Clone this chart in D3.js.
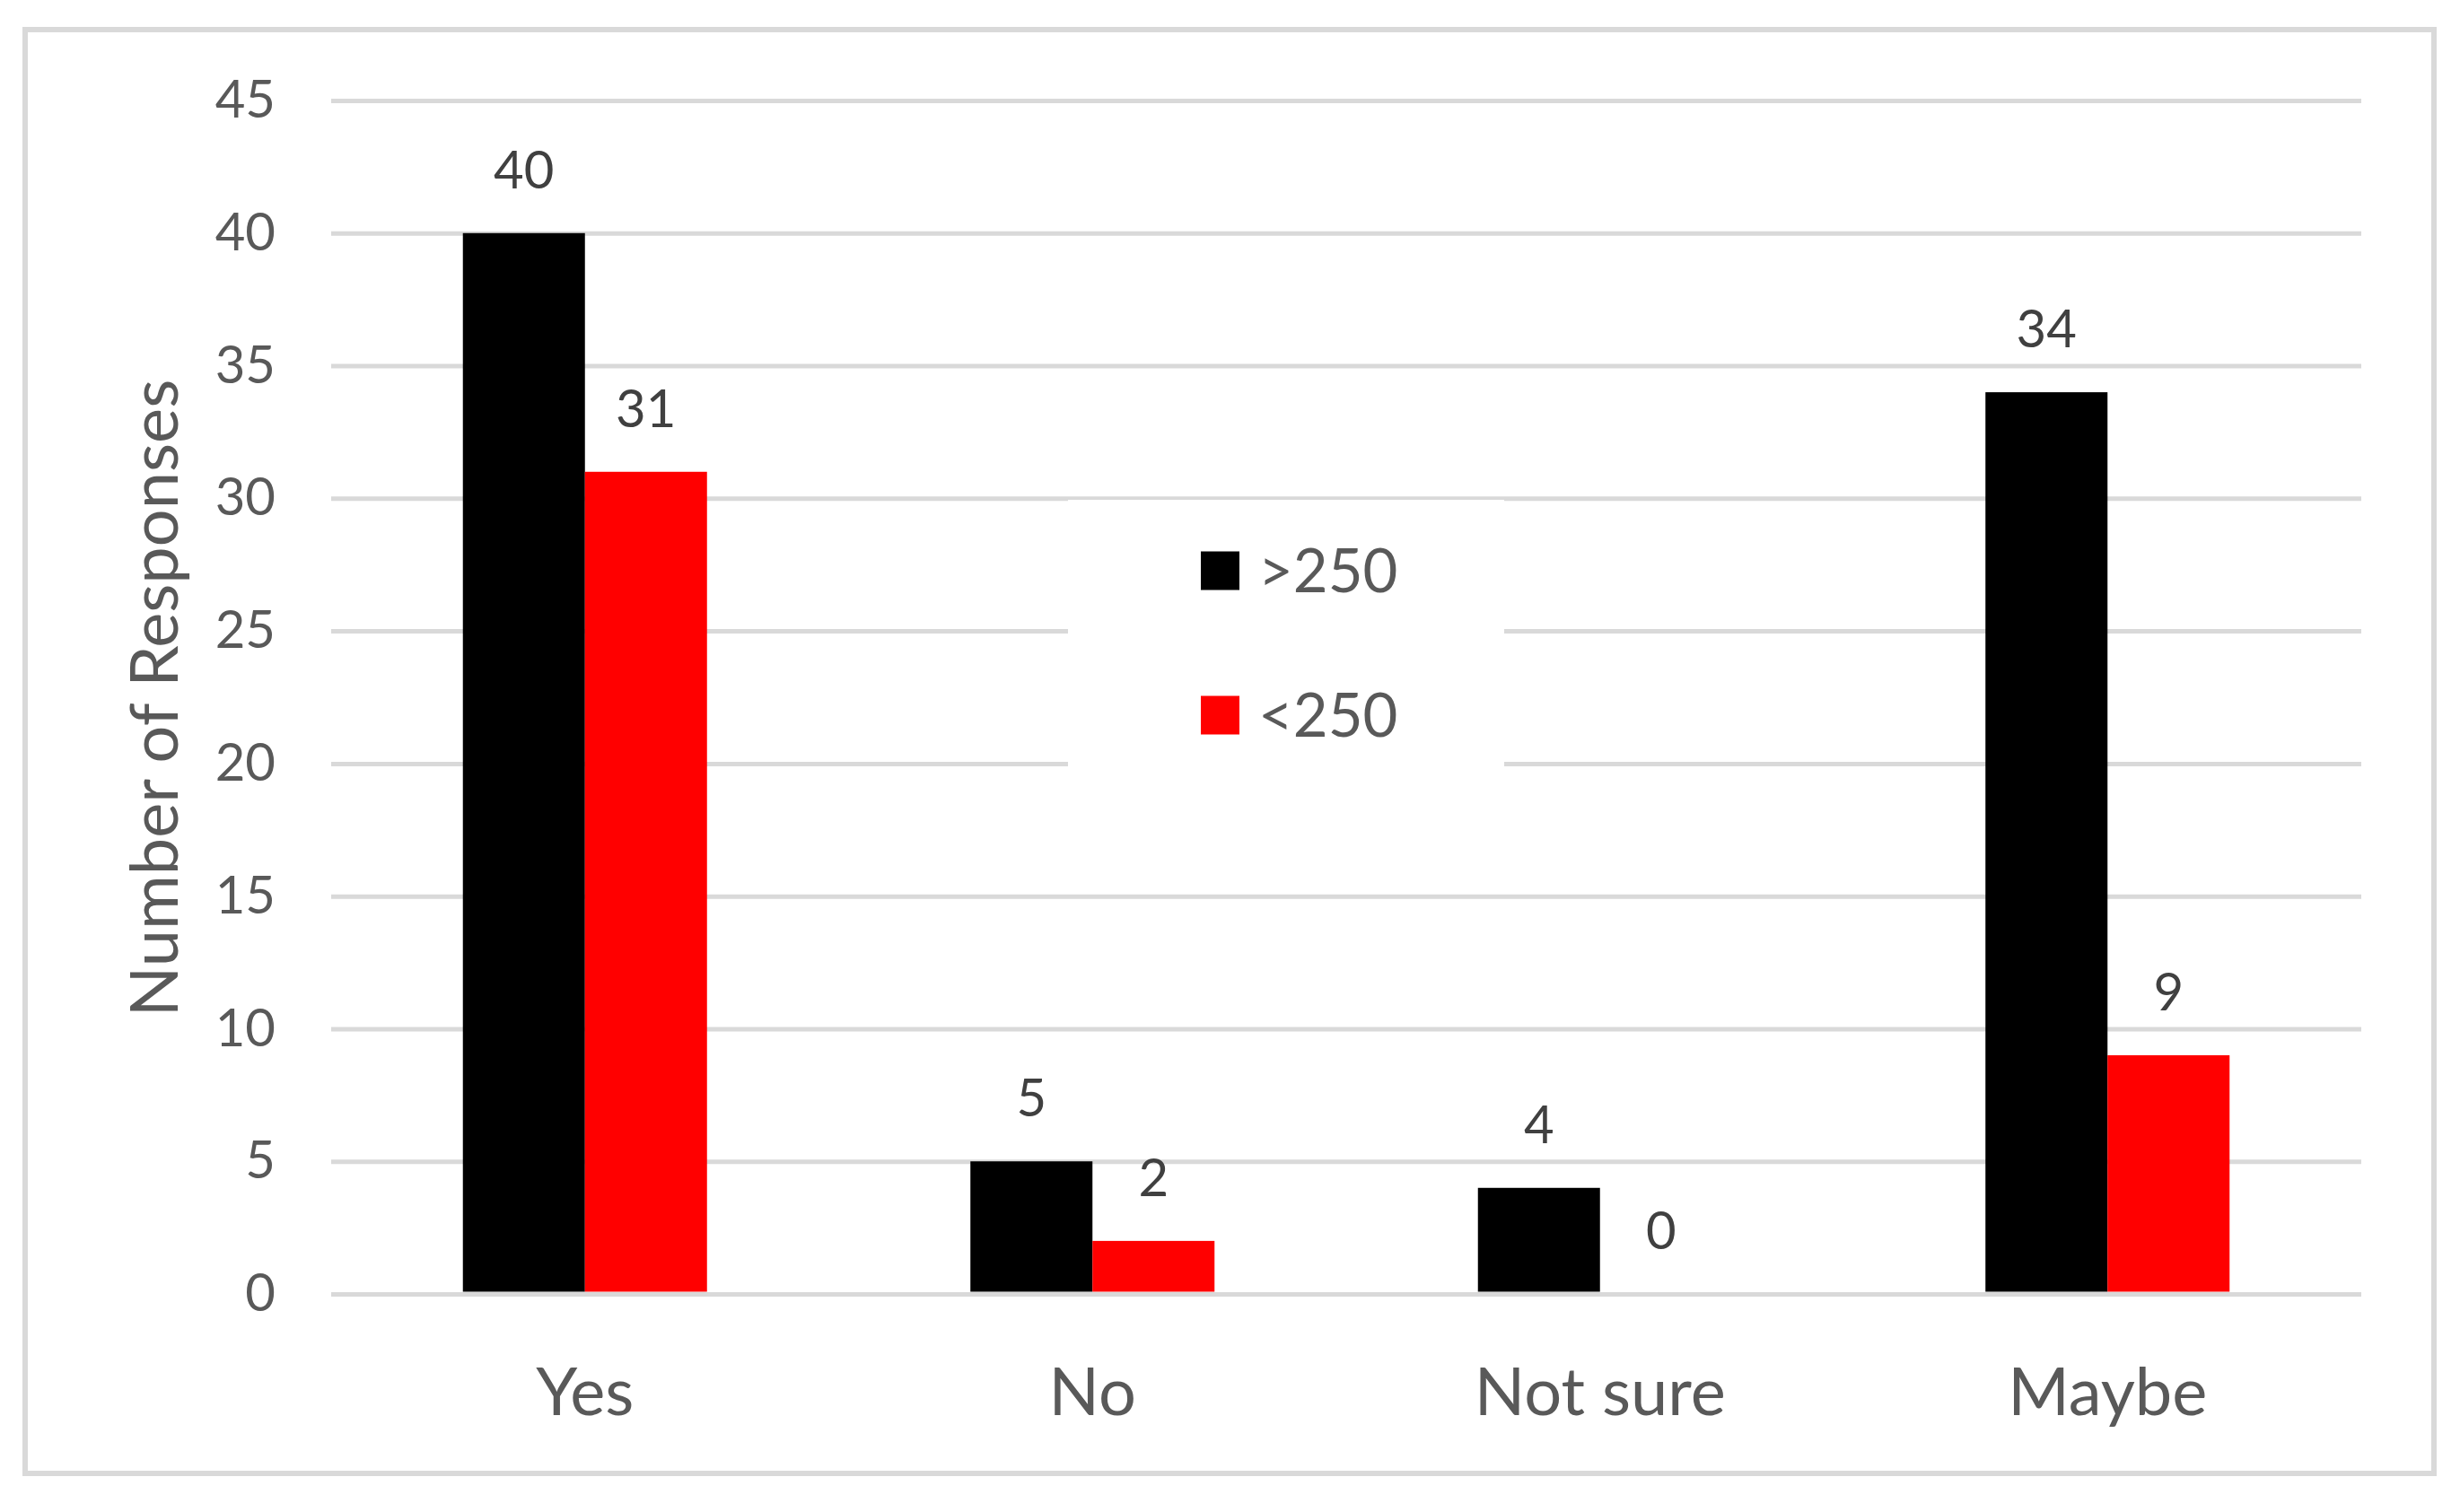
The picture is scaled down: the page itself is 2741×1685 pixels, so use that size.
<!DOCTYPE html>
<html>
<head>
<meta charset="utf-8">
<script src="https://cdn.jsdelivr.net/npm/d3@7"></script>
<style>
  html, body { margin: 0; padding: 0; background: #fff; }
  svg { display: block; }
</style>
</head>
<body>
<svg id="chart" width="2741" height="1685"></svg>
<script>
const categories = ["Yes", "No", "Not sure", "Maybe"];
const seriesNames = [">250", "<250"];
const seriesColors = ["#000000", "#ff0000"];
const over250 = [40, 5, 4, 34];
const under250 = [31, 2, 0, 9];
const yTicks = [0, 5, 10, 15, 20, 25, 30, 35, 40, 45];
const yTitle = "Number of Responses";

const W = 2741, H = 1685;
const margin = { left: 369, right: W - 2631, top: 112, bottom: H - 1442 };
const FONT = "Lato, 'Open Sans', sans-serif";
const svg = d3.select("#chart");

svg.append("rect").attr("x", 0).attr("y", 0).attr("width", W).attr("height", H).attr("fill", "#fff");
// outer chart border
svg.append("rect")
  .attr("x", 28).attr("y", 33).attr("width", 2684).attr("height", 1609)
  .attr("fill", "none").attr("stroke", "#d9d9d9").attr("stroke-width", 6);

const x0 = d3.scaleBand()
  .domain(categories)
  .range([margin.left, W - margin.right])
  .paddingInner(0.519).paddingOuter(0.2595);
const x1 = d3.scaleBand().domain(seriesNames).range([0, x0.bandwidth()]).padding(0);
const y = d3.scaleLinear().domain([0, 45]).range([H - margin.bottom, margin.top]);

// gridlines + y tick labels
const yAxis = d3.axisLeft(y).tickValues(yTicks).tickSize(-(W - margin.left - margin.right)).tickPadding(62);
const gy = svg.append("g").attr("transform", `translate(${margin.left},0)`).call(yAxis);
gy.select(".domain").remove();
gy.selectAll(".tick line").attr("stroke", "#d9d9d9").attr("stroke-width", 5);
gy.selectAll(".tick text")
  .attr("fill", "#595959").attr("font-family", FONT).attr("font-size", 58).attr("font-weight", 400);

// legend (white box covering gridlines)
const legend = svg.append("g");
legend.append("rect").attr("x", 1190).attr("y", 557).attr("width", 486).attr("height", 315).attr("fill", "#fff");
const legY = [636, 797];
seriesNames.forEach((s, i) => {
  legend.append("rect").attr("x", 1338).attr("y", legY[i] - 21.5).attr("width", 43).attr("height", 43).attr("fill", seriesColors[i]);
  legend.append("text").attr("x", 1402).attr("y", legY[i]).attr("dy", "0.36em")
    .attr("fill", "#595959").attr("font-family", FONT).attr("font-size", 67).attr("font-weight", 400).text(s);
});

// bars
const data = categories.map((c, i) => ({ cat: c, vals: [over250[i], under250[i]] }));
const groups = svg.append("g").selectAll("g").data(data).join("g")
  .attr("transform", d => `translate(${x0(d.cat)},0)`);
groups.selectAll("rect").data(d => d.vals.map((v, j) => ({ v, s: seriesNames[j], c: seriesColors[j] })))
  .join("rect")
  .attr("x", d => x1(d.s)).attr("width", x1.bandwidth())
  .attr("y", d => y(d.v)).attr("height", d => y(0) - 2.5 - y(d.v) > 0 ? y(0) - 2.5 - y(d.v) : 0)
  .attr("fill", d => d.c);
groups.selectAll("text").data(d => d.vals.map((v, j) => ({ v, s: seriesNames[j] })))
  .join("text")
  .attr("x", d => x1(d.s) + x1.bandwidth() / 2)
  .attr("y", d => y(d.v) - 50)
  .attr("text-anchor", "middle")
  .attr("fill", "#404040").attr("font-family", FONT).attr("font-size", 58).attr("font-weight", 400)
  .text(d => d.v);

// category axis
const xAxis = d3.axisBottom(x0).tickSize(0).tickPadding(0);
const gx = svg.append("g").attr("transform", `translate(0,1577)`).call(xAxis);
gx.select(".domain").remove();
gx.selectAll(".tick text").attr("dy", 0).attr("y", 0)
  .attr("fill", "#595959").attr("font-family", FONT).attr("font-size", 74).attr("font-weight", 400);

// y title
svg.append("text")
  .attr("transform", `translate(198,778) rotate(-90)`)
  .attr("text-anchor", "middle")
  .attr("fill", "#595959").attr("font-family", FONT).attr("font-size", 74).attr("font-weight", 400)
  .text(yTitle);
</script>
</body>
</html>
